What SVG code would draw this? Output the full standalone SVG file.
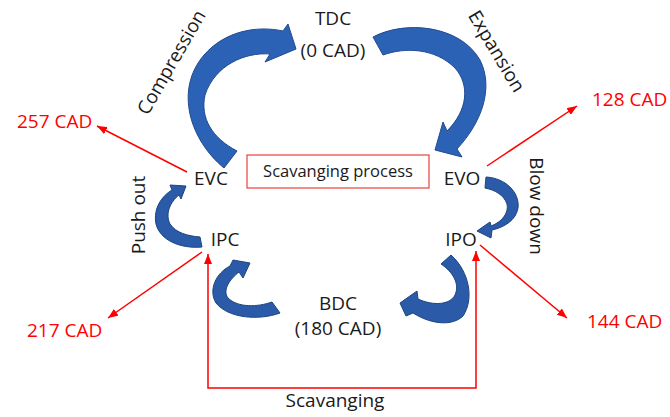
<svg xmlns="http://www.w3.org/2000/svg" width="670" height="417" viewBox="0 0 670 417">
<style>
text{font-family:"Open Sans","Noto Sans","Liberation Sans",sans-serif;font-size:19px;fill:#1a1a1a}
.m{text-anchor:middle}
.r{fill:#ff0000}
.sm{font-size:16.5px}
.blue{fill:#2c62b6;stroke:#1f4b8f;stroke-width:1}
.dark{fill:#2a5aa8;stroke:#1c4580;stroke-width:1}
.red{fill:none;stroke:#ff0000;stroke-width:1.5}
</style>
<defs>
<marker id="ah" viewBox="0 0 10 8" refX="10" refY="4" markerWidth="10" markerHeight="8" markerUnits="userSpaceOnUse" orient="auto-start-reverse">
<path d="M0,0 L10,4 L0,8 z" fill="#ff0000"/>
</marker>
</defs>
<rect width="670" height="417" fill="#ffffff"/>
<g id="connectors">
<path id="compression-arrow" class="blue" d="M224 168 C190 140,174 90,204 55 C224 32,255 25,283 31 L288 24 L296 49 L265 62 L270 54 C245 52,215 65,205 95 C200 118,212 138,237 151 Z"/>
<path id="expansion-arrow" class="blue" d="M373 37 C405 20,460 25,480 60 C494 88,482 122,457 149 L462 157 L435 150 L443 122 L447 131 C468 110,470 85,455 68 C435 48,405 47,383 55 Z"/>
<path id="pushout-arrow" class="dark" d="M200 237 L202 247 C180 249,160 240,156 224 C153 208,162 196,172 190 L170 185 L186 186 L181 199 L179 195 C170 202,165 214,170 224 C176 233,188 236,200 237 Z"/>
<path id="blowdown-arrow" class="dark" d="M486 177 C505 178,520 192,518 208 C516 220,505 227,492 230 L491 238 L477 231 L490 222 L491 226 C502 222,509 213,507 204 C504 195,495 190,485 188 Z"/>
<path id="bdc-ipc-arrow" class="dark" d="M272 302 L280 313 C258 321,228 318,216 303 C208 290,216 273,230 266 L233 260 L250 263 L243 278 L239 272 C230 279,222 290,228 298 C238 308,258 307,272 302 Z"/>
<path id="ipo-bdc-arrow" class="dark" d="M441 264 L451 255 C470 272,474 300,463 316 C453 326,432 325,413 313 L406 316 L400 303 L417 291 L418 299 C433 306,450 305,455 295 C460 284,453 272,441 264 Z"/>
<line class="red" x1="187" y1="172" x2="97" y2="126" marker-end="url(#ah)"/>
<line class="red" x1="202" y1="252" x2="108" y2="318" marker-end="url(#ah)"/>
<line class="red" x1="487" y1="166" x2="577" y2="106" marker-end="url(#ah)"/>
<line class="red" x1="480" y1="245" x2="567" y2="318" marker-end="url(#ah)"/>
<path id="scavanging-line" class="red" d="M208 254 V388 H476 V251" marker-start="url(#ah)" marker-end="url(#ah)"/>
</g>
<g id="tdc"><text class="m" x="333" y="25">TDC</text><text class="m" x="333" y="57">(0 CAD)</text></g>
<g id="bdc"><text class="m" x="338" y="310">BDC</text><text class="m" x="338" y="335">(180 CAD)</text></g>
<g id="evc"><text class="m" x="211" y="185">EVC</text></g>
<g id="evo"><text class="m" x="462" y="185">EVO</text></g>
<g id="ipc"><text class="m" x="225" y="246">IPC</text></g>
<g id="ipo"><text class="m" x="461" y="246">IPO</text></g>
<g id="scavanging-process"><rect x="247" y="155" width="182" height="33" fill="#ffffff" stroke="#e8403a" stroke-width="1.2"/><text class="m sm" x="338" y="177">Scavanging process</text></g>
<g id="labels">
<text class="m" transform="translate(171,62) rotate(-60)" y="7">Compression</text>
<text class="m" transform="translate(497,51) rotate(59)" y="7">Expansion</text>
<text class="m" transform="translate(138,215) rotate(-90)" y="7">Push out</text>
<text class="m" transform="translate(537,206) rotate(90)" y="7">Blow down</text>
<text class="m" x="335" y="407">Scavanging</text>
<text class="r" x="17" y="128">257 CAD</text>
<text class="r" x="27" y="337">217 CAD</text>
<text class="r" x="592" y="106">128 CAD</text>
<text class="r" x="587" y="328">144 CAD</text>
</g>
</svg>
